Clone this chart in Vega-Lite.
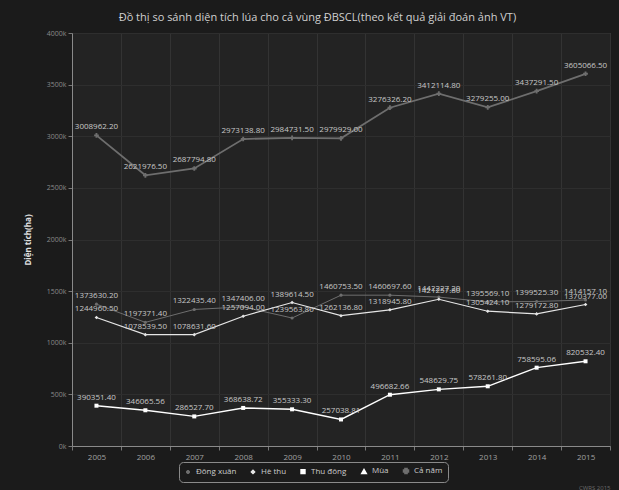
{
  "$schema": "https://vega.github.io/schema/vega-lite/v6.json",
  "width": 538,
  "height": 413,
  "padding": {"left": 24, "top": 12, "right": 8, "bottom": 2},
  "background": "#1b1b1b",
  "config": {
    "font": "Open Sans",
    "view": {"fill": "#232323", "stroke": "#5a5a5a", "strokeWidth": 1}
  },
  "title": {
    "text": "Đồ thị so sánh diện tích lúa cho cả vùng ĐBSCL(theo kết quả giải đoán ảnh VT)",
    "color": "#d0d0d0",
    "fontSize": 11,
    "fontWeight": "normal",
    "frame": "bounds",
    "anchor": "middle",
    "offset": 6
  },
  "data": {
    "values": [
      {"year": "2005", "series": "Đông xuân", "value": 1373630.20},
      {"year": "2006", "series": "Đông xuân", "value": 1197371.40},
      {"year": "2007", "series": "Đông xuân", "value": 1322435.40},
      {"year": "2008", "series": "Đông xuân", "value": 1347406.00},
      {"year": "2009", "series": "Đông xuân", "value": 1239563.80},
      {"year": "2010", "series": "Đông xuân", "value": 1460753.50},
      {"year": "2011", "series": "Đông xuân", "value": 1460697.60},
      {"year": "2012", "series": "Đông xuân", "value": 1442227.20},
      {"year": "2013", "series": "Đông xuân", "value": 1395569.10},
      {"year": "2014", "series": "Đông xuân", "value": 1399525.30},
      {"year": "2015", "series": "Đông xuân", "value": 1414157.10},
      {"year": "2005", "series": "Hè thu", "value": 1244960.50},
      {"year": "2006", "series": "Hè thu", "value": 1078539.50},
      {"year": "2007", "series": "Hè thu", "value": 1078631.60},
      {"year": "2008", "series": "Hè thu", "value": 1257094.00},
      {"year": "2009", "series": "Hè thu", "value": 1389614.50},
      {"year": "2010", "series": "Hè thu", "value": 1262136.80},
      {"year": "2011", "series": "Hè thu", "value": 1318945.80},
      {"year": "2012", "series": "Hè thu", "value": 1421257.80},
      {"year": "2013", "series": "Hè thu", "value": 1305424.10},
      {"year": "2014", "series": "Hè thu", "value": 1279172.80},
      {"year": "2015", "series": "Hè thu", "value": 1370377.00},
      {"year": "2005", "series": "Thu đông", "value": 390351.40},
      {"year": "2006", "series": "Thu đông", "value": 346065.56},
      {"year": "2007", "series": "Thu đông", "value": 286527.70},
      {"year": "2008", "series": "Thu đông", "value": 368638.72},
      {"year": "2009", "series": "Thu đông", "value": 355333.30},
      {"year": "2010", "series": "Thu đông", "value": 257038.81},
      {"year": "2011", "series": "Thu đông", "value": 496682.66},
      {"year": "2012", "series": "Thu đông", "value": 548629.75},
      {"year": "2013", "series": "Thu đông", "value": 578261.80},
      {"year": "2014", "series": "Thu đông", "value": 758595.06},
      {"year": "2015", "series": "Thu đông", "value": 820532.40},
      {"year": "2005", "series": "Cả năm", "value": 3008962.20},
      {"year": "2006", "series": "Cả năm", "value": 2621976.50},
      {"year": "2007", "series": "Cả năm", "value": 2687794.80},
      {"year": "2008", "series": "Cả năm", "value": 2973138.80},
      {"year": "2009", "series": "Cả năm", "value": 2984731.50},
      {"year": "2010", "series": "Cả năm", "value": 2979929.00},
      {"year": "2011", "series": "Cả năm", "value": 3276326.20},
      {"year": "2012", "series": "Cả năm", "value": 3412114.80},
      {"year": "2013", "series": "Cả năm", "value": 3279255.00},
      {"year": "2014", "series": "Cả năm", "value": 3437291.50},
      {"year": "2015", "series": "Cả năm", "value": 3605066.50}
    ]
  },
  "encoding": {
    "x": {
      "field": "year",
      "type": "ordinal",
      "scale": {"type": "band", "paddingInner": 0, "paddingOuter": 0},
      "axis": {
        "title": "CWRS 2015",
        "titleAnchor": "end",
        "titleColor": "#6a6a6a",
        "titleFontSize": 6,
        "titleFontWeight": "normal",
        "titleY": 38,
        "labelAngle": 0,
        "labelColor": "#a0a0a0",
        "labelFontSize": 8,
        "tickBand": "extent",
        "tickColor": "#777",
        "tickSize": 4,
        "domainColor": "#8a8a8a",
        "gridColor": "#333333",
        "grid": true,
        "labelPadding": 3
      }
    },
    "y": {
      "field": "value",
      "type": "quantitative",
      "scale": {"domain": [0, 4000000], "nice": false},
      "axis": {
        "title": "Diện tích(ha)",
        "titleColor": "#e0e0e0",
        "titleFontSize": 8,
        "titleFontWeight": "bold",
        "titlePadding": 14,
        "values": [0, 500000, 1000000, 1500000, 2000000, 2500000, 3000000, 3500000, 4000000],
        "labelExpr": "format(datum.value / 1000, 'd') + 'k'",
        "labelColor": "#8a8a8a",
        "labelFontSize": 7,
        "tickColor": "#777",
        "tickSize": 4,
        "domainColor": "#8a8a8a",
        "gridColor": "#2e2e2e"
      }
    },
    "color": {
      "field": "series",
      "type": "nominal",
      "scale": {
        "domain": ["Đông xuân", "Hè thu", "Thu đông", "Mùa", "Cả năm"],
        "range": ["#6e6e6e", "#e6e6e6", "#ffffff", "#ffffff", "#6e6e6e"]
      },
      "legend": {
        "title": null,
        "orient": "none",
        "direction": "horizontal",
        "legendX": 107,
        "legendY": 429,
        "strokeColor": "#8a8a8a",
        "cornerRadius": 4,
        "padding": 5,
        "labelColor": "#cccccc",
        "labelFontSize": 8,
        "symbolSize": 40,
        "columnPadding": 11,
        "symbolStrokeWidth": 1.5
      }
    }
  },
  "layer": [
    {
      "mark": {"type": "line"},
      "encoding": {
        "strokeWidth": {
          "field": "series",
          "type": "nominal",
          "scale": {"domain": ["Đông xuân", "Hè thu", "Thu đông", "Mùa", "Cả năm"], "range": [1, 1.8, 2, 2, 1]},
          "legend": null
        }
      }
    },
    {
      "mark": {"type": "point", "filled": true, "opacity": 1},
      "encoding": {
        "shape": {
          "field": "series",
          "type": "nominal",
          "scale": {
            "domain": ["Đông xuân", "Hè thu", "Thu đông", "Mùa", "Cả năm"],
            "range": ["circle", "diamond", "square", "triangle-up", "cross"]
          },
          "legend": {"title": null}
        },
        "size": {
          "field": "series",
          "type": "nominal",
          "scale": {"domain": ["Đông xuân", "Hè thu", "Thu đông", "Mùa", "Cả năm"], "range": [10, 22, 40, 30, 10]},
          "legend": null
        }
      }
    },
    {
      "mark": {"type": "text", "dy": -8, "fontSize": 8},
      "encoding": {
        "color": {"value": "#c8c8c8"},
        "text": {"field": "value", "type": "quantitative", "format": ".2f"}
      }
    }
  ]
}
